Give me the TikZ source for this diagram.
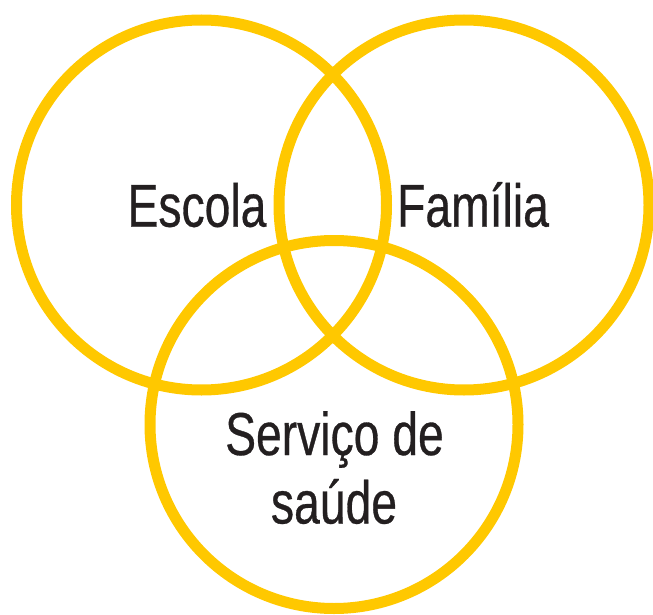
\documentclass[tikz,border=0pt]{standalone}
\usepackage{fontspec}
\setmainfont[FakeStretch=0.765,FakeBold=0.5]{Liberation Sans}
\definecolor{venn}{RGB}{255,200,0}
\definecolor{ink}{RGB}{35,31,32}
\begin{document}
\begin{tikzpicture}[x=1pt,y=-1pt,
  ring/.style={circle, draw=venn, line width=11pt, minimum size=370pt, inner sep=0pt},
  lbl/.style={anchor=base, text=ink, inner sep=0pt, font=\fontsize{60.5}{68.5}\selectfont}]
\useasboundingbox (0,0) rectangle (653,615);
\node[ring] (escola) at (201.5,205) {};
\node[ring] (familia) at (464,205) {};
\node[ring, minimum size=368pt] (saude) at (334,424.5) {};
\node[lbl] (tescola) at (197,226.7) {Escola};
\node[lbl] (tfamilia) at (473,226.7) {Família};
\node[lbl] (tservico) at (334.5,455) {Serviço de};
\node[lbl] (tsaude) at (334,523.5) {saúde};
\end{tikzpicture}
\end{document}
